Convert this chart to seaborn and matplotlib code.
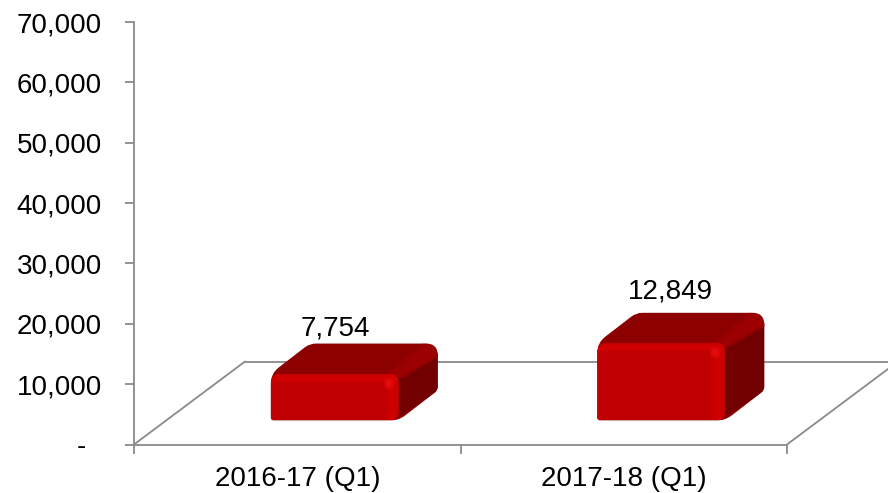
import matplotlib
matplotlib.use("Agg")
import matplotlib.pyplot as plt
from matplotlib.lines import Line2D
from matplotlib.patches import PathPatch, Polygon, Circle, Rectangle
from matplotlib.path import Path
from matplotlib.transforms import IdentityTransform
import numpy as np
import seaborn as sns

categories = ["2016-17 (Q1)", "2017-18 (Q1)"]
values = [7754, 12849]
value_labels = ["7,754", "12,849"]
y_ticks = [0, 10000, 20000, 30000, 40000, 50000, 60000, 70000]
y_tick_labels = ["-\u00a0\u00a0", "10,000", "20,000", "30,000", "40,000", "50,000", "60,000", "70,000"]

sns.set_theme(style="white")
plt.rcParams["font.family"] = ["Liberation Sans", "DejaVu Sans"]

AXIS = "#8A8A8A"
LW = 1.3
W, H = 888, 493
fig = plt.figure(figsize=(W / 100, H / 100), dpi=100)
ax = fig.add_axes([134 / W, (H - 444.5) / H, 653 / W, 422.5 / H])

BASE = 4000          # bars float above the floor
SHIFT = 0.115        # bars sit forward-right of the category centre
DX, DY = 39, 30      # 3-D depth of a bar, pixels
FLOOR_DX, FLOOR_DY = 111, 83

sns.barplot(x=categories, y=values, bottom=BASE, width=0.392, color="#C00000",
            saturation=1, ax=ax, zorder=5, edgecolor="none", linewidth=0)
bars = list(ax.patches)
ax.set_xlim(-0.5, 1.5)
ax.set_ylim(0, 70000)
ax.set_xlabel("")
ax.set_ylabel("")
ax.set_yticks(y_ticks, y_tick_labels)
ax.set_xticks([-0.5, 0.5, 1.5], ["", "", ""])
ax.tick_params(axis="y", length=6.5, width=LW, color=AXIS, left=True, pad=16.5,
               labelsize=20, labelcolor="black")
ax.tick_params(axis="x", length=6.5, width=LW, color=AXIS, bottom=True)
for s in ("top", "right"):
    ax.spines[s].set_visible(False)
for s in ("left", "bottom"):
    ax.spines[s].set_color(AXIS)
    ax.spines[s].set_linewidth(LW)
for i, c in enumerate(categories):
    ax.annotate(c, (i, 0), xytext=(0, -25), textcoords="offset points",
                ha="center", va="center", fontsize=20, color="black",
                annotation_clip=False)

px = IdentityTransform()
to_px = ax.transData.transform

# floor parallelogram behind the bars
x0, y0 = to_px((-0.5, 0))
x1, y1 = to_px((1.5, 0))
for xs, ys in ([x0, x0 + FLOOR_DX], [y0, y0 + FLOOR_DY]), \
              ([x0 + FLOOR_DX, x1 + FLOOR_DX], [y0 + FLOOR_DY, y0 + FLOOR_DY]), \
              ([x1, x1 + FLOOR_DX], [y1, y1 + FLOOR_DY]):
    fig.add_artist(Line2D(xs, ys, transform=px, color=AXIS, lw=LW, zorder=1))
ax.patch.set_alpha(0)
ax.set_zorder(3)


def rounded(points, radii):
    """Closed path through points with each corner rounded."""
    pts = [np.array(p, float) for p in points]
    n = len(pts)
    verts, codes = [], []
    for i, p in enumerate(pts):
        a, b = pts[i - 1], pts[(i + 1) % n]
        r = radii[i]
        s = p + (a - p) / np.linalg.norm(a - p) * r
        e = p + (b - p) / np.linalg.norm(b - p) * r
        verts += [s, p, e]
        codes += [Path.MOVETO if i == 0 else Path.LINETO, Path.CURVE3, Path.CURVE3]
    verts.append(verts[0])
    codes.append(Path.CLOSEPOLY)
    return Path(verts, codes)


def add(artist):
    artist.set_transform(px)
    artist.set_clip_on(True)
    ax.add_artist(artist)
    return artist


for i, bar in enumerate(bars):
    bar.set_x(bar.get_x() + SHIFT)
    l, b = to_px((bar.get_x(), bar.get_y()))
    r, t = to_px((bar.get_x() + bar.get_width(), bar.get_y() + bar.get_height()))

    # outline of the whole block: top face + side face
    block = rounded([(l, b), (l, t), (l + DX, t + DY), (r + DX, t + DY), (r + DX, b + DY), (r, b)],
                    [3, 10, 6, 12, 4, 8])
    p = add(PathPatch(block, fc="#8C0000", ec="none", zorder=2))
    p.set_clip_path(None)
    p.set_clip_on(False)
    # side face
    side = add(Polygon([(r - 4, b), (r - 4, t - 6), (r + DX, t + DY - 10), (r + DX, b + DY)],
                       fc="#720000", ec="none", zorder=2.5))
    side.set_clip_path(block, px)
    # soft bevel between top and side: layered strips
    for k in range(5):
        w = 11 - 2 * k
        bevel = add(Polygon([(r - 2 - w, t), (r - 2 + w * 0.5, t - 5 + k * 0.3),
                             (r + DX + w * 0.3, t + DY - 12), (r + DX - 4 - w, t + DY + 1)],
                            fc="#A00000", alpha=0.35, ec="none", zorder=2.7))
        bevel.set_clip_path(block, px)

    # front face: the seaborn bar, clipped to a rounded shape
    front = rounded([(l, b), (l, t), (r, t), (r, b)], [3, 10, 10, 8])
    bar.set_clip_path(front, px)
    for k in range(10):                    # top highlight band
        band = add(Rectangle((l, t - k - 1), r - l, 1,
                             fc=(0.84, 0, 0), alpha=0.85 * np.sin((k + 1.5) / 11 * np.pi) ** 1.5,
                             ec="none", zorder=6))
        band.set_clip_path(front, px)
    for k in range(5):                     # left soft edge
        band = add(Rectangle((l + k, b), 1, t - b, fc=(0.80, 0, 0), alpha=0.08 * (5 - k),
                             ec="none", zorder=6))
        band.set_clip_path(front, px)
    for k in range(14):                    # right highlight band
        band = add(Rectangle((r - k - 1, b), 1, t - b,
                             fc=(0.83, 0, 0), alpha=0.8 * np.sin((k + 1) / 15 * np.pi) ** 1.5,
                             ec="none", zorder=6.2))
        band.set_clip_path(front, px)
    for rad, a in ((6, 0.25), (4.5, 0.35), (3, 0.45), (1.5, 0.5)):
        spot = add(Circle((r - 10, t - 10), rad, fc="#EE1010", alpha=a, ec="none", zorder=6.5))
        spot.set_clip_path(front, px)

# value labels, placed above each block
label_gaps = [2, 8]
label_shift = [0.7, 9]
for i, bar in enumerate(bars):
    cx = bar.get_x() + bar.get_width() / 2
    ax.annotate(value_labels[i], (cx, bar.get_y() + bar.get_height()),
                xytext=(label_shift[i] * 0.72, (DY + label_gaps[i]) * 0.72), textcoords="offset points",
                ha="center", va="bottom", fontsize=20, color="black",
                annotation_clip=False, zorder=8)

fig.savefig("out.png", dpi=100, facecolor="white")
